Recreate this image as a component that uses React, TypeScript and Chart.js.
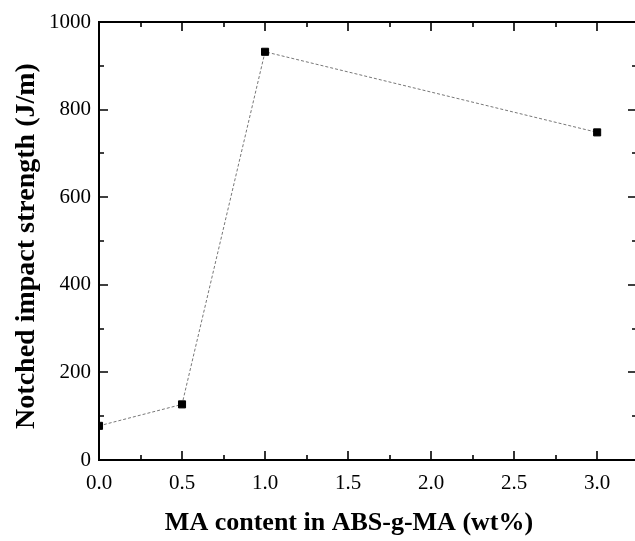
import React, { useEffect, useRef } from "react";
import { Chart, registerables } from "chart.js";

Chart.register(...registerables);

const maContent = [0, 0.5, 1.0, 3.0];
const impactStrength = [78, 127, 932, 748];
const xMajorTicks = [0, 0.5, 1.0, 1.5, 2.0, 2.5, 3.0];
const xMinorTicks = [0.25, 0.75, 1.25, 1.75, 2.25, 2.75];
const yMajorTicks = [0, 200, 400, 600, 800, 1000];
const yMinorTicks = [100, 300, 500, 700, 900];
const xTitle = "MA content in ABS-g-MA (wt%)";
const yTitle = "Notched impact strength (J/m)";

const FONT = "'Liberation Serif', 'Times New Roman', serif";

const framePlugin = {
  id: "frame",
  afterDraw(chart: any) {
    const { ctx, chartArea } = chart;
    const xs = chart.scales.x;
    const ys = chart.scales.y;
    const { left, right, top, bottom } = chartArea;
    ctx.save();
    ctx.strokeStyle = "#000";
    ctx.lineWidth = 2;
    ctx.beginPath();
    ctx.rect(left, top, right - left, bottom - top);
    ctx.stroke();
    ctx.lineWidth = 1.6;
    const major = 9;
    const minor = 5;
    ctx.beginPath();
    const xt = (v: number, len: number) => {
      const px = Math.round(xs.getPixelForValue(v));
      ctx.moveTo(px, bottom);
      ctx.lineTo(px, bottom - len);
      ctx.moveTo(px, top);
      ctx.lineTo(px, top + len);
    };
    const yt = (v: number, len: number) => {
      const py = Math.round(ys.getPixelForValue(v));
      ctx.moveTo(left, py);
      ctx.lineTo(left + len, py);
      ctx.moveTo(right, py);
      ctx.lineTo(right - len, py);
    };
    xMajorTicks.forEach((v) => xt(v, major));
    xMinorTicks.forEach((v) => xt(v, minor));
    yMajorTicks.forEach((v) => yt(v, major));
    yMinorTicks.forEach((v) => yt(v, minor));
    ctx.stroke();

    ctx.fillStyle = "#000";
    ctx.textAlign = "center";
    ctx.textBaseline = "middle";
    ctx.font = `bold 26px ${FONT}`;
    ctx.fillText(xTitle, 349, 523);
    ctx.save();
    ctx.translate(27, 246);
    ctx.rotate(-Math.PI / 2);
    ctx.font = `bold 28px ${FONT}`;
    ctx.fillText(yTitle, 0, 0);
    ctx.restore();
    ctx.restore();
  },
};

export default function App() {
  const ref = useRef<HTMLCanvasElement>(null);
  useEffect(() => {
    const canvas = ref.current;
    if (!canvas) return;
    const chart = new Chart(canvas, {
      type: "line",
      data: {
        datasets: [
          {
            data: maContent.map((x, i) => ({ x, y: impactStrength[i] })),
            borderColor: "#777",
            borderWidth: 1,
            borderDash: [3, 2],
            pointStyle: "rect",
            pointRadius: 5,
            pointBorderWidth: 1,
            pointBackgroundColor: "#000",
            pointBorderColor: "#000",
            tension: 0,
            clip: 0 as any,
          },
        ],
      },
      options: {
        responsive: false,
        animation: false,
        devicePixelRatio: 1,
        layout: { padding: { top: 22, right: 8, left: 0, bottom: 0 } },
        plugins: { legend: { display: false }, tooltip: { enabled: false } },
        scales: {
          x: {
            type: "linear",
            min: 0,
            max: 3.24,
            grid: { display: false, drawTicks: false },
            border: { display: false },
            afterBuildTicks: (scale: any) => {
              scale.ticks = xMajorTicks.map((v) => ({ value: v }));
            },
            afterFit: (scale: any) => {
              scale.height = 81;
            },
            ticks: {
              color: "#000",
              padding: 11,
              maxRotation: 0,
              autoSkip: false,
              font: { family: FONT, size: 21 },
              callback: (v: any) => Number(v).toFixed(1),
            },
          },
          y: {
            type: "linear",
            min: 0,
            max: 1000,
            grid: { display: false, drawTicks: false },
            border: { display: false },
            afterBuildTicks: (scale: any) => {
              scale.ticks = yMajorTicks.map((v) => ({ value: v }));
            },
            afterFit: (scale: any) => {
              scale.width = 99;
            },
            ticks: {
              color: "#000",
              padding: 8,
              autoSkip: false,
              font: { family: FONT, size: 21 },
              callback: (v: any) => String(v),
            },
          },
        },
      },
      plugins: [framePlugin],
    });
    return () => chart.destroy();
  }, []);
  return (
    <div
      style={{
        position: "absolute",
        left: 0,
        top: 0,
        width: 635,
        height: 541,
        overflow: "hidden",
        background: "#fff",
      }}
    >
      <canvas ref={ref} width={645} height={541} style={{ display: "block" }} />
    </div>
  );
}
